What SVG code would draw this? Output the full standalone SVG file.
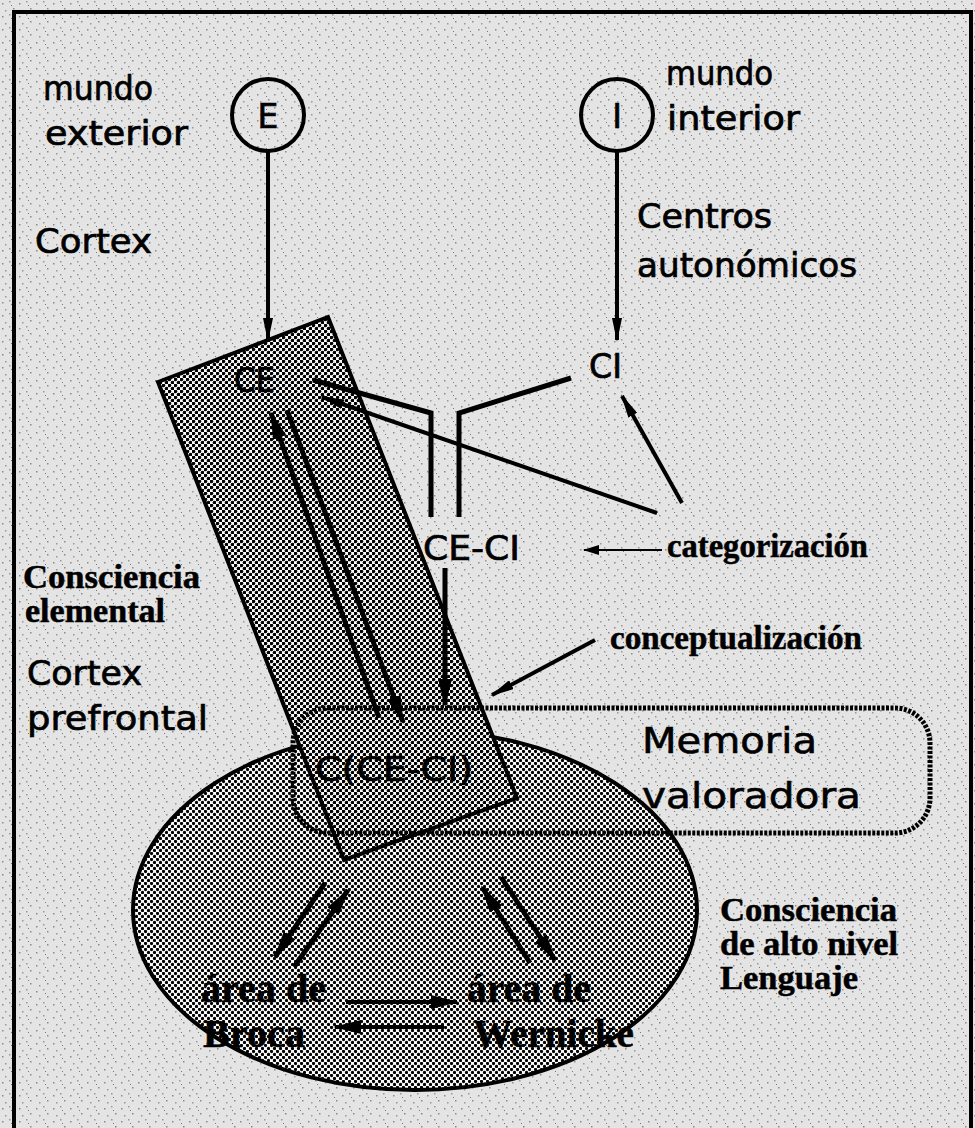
<svg xmlns="http://www.w3.org/2000/svg" width="975" height="1128" viewBox="0 0 975 1128">
<style>
.sl{font-family:"DejaVu Sans","Liberation Sans",sans-serif;font-size:33px;fill:#000;stroke:#000;stroke-width:0.7}
.big{font-family:"DejaVu Sans","Liberation Sans",sans-serif;font-size:36px;fill:#000;stroke:#000;stroke-width:0.6}
.bs{font-family:"Liberation Serif","Times New Roman",serif;font-weight:bold;font-size:34px;fill:#000;stroke:#000;stroke-width:0.5}
.bb{font-family:"Liberation Serif","Times New Roman",serif;font-weight:bold;font-size:39px;fill:#000;stroke:#000;stroke-width:0.5}
.ln{stroke:#000;fill:none;stroke-width:4}
.th{stroke:#000;fill:none;stroke-width:5}
</style>
<defs>
<pattern id="bg" width="17" height="13" patternUnits="userSpaceOnUse">
<rect width="17" height="13" fill="#e4e4e4"/>
<rect x="2" y="3" width="1.5" height="1.5" fill="#8a8a8a"/>
<rect x="9" y="1" width="1.5" height="1.5" fill="#999"/>
<rect x="13" y="8" width="1.5" height="1.5" fill="#8a8a8a"/>
<rect x="5" y="10" width="1.5" height="1.5" fill="#999"/>
<rect x="11" y="5" width="1" height="1" fill="#777"/>
</pattern>
<pattern id="htR" width="6" height="6" patternUnits="userSpaceOnUse">
<rect width="6" height="6" fill="#fff"/>
<circle cx="1.5" cy="1.5" r="1.8" fill="#000"/>
<circle cx="4.5" cy="4.5" r="1.8" fill="#000"/>
</pattern>
<pattern id="htE" width="6" height="6" patternUnits="userSpaceOnUse">
<rect width="6" height="6" fill="#fff"/>
<circle cx="1.5" cy="1.5" r="1.65" fill="#000"/>
<circle cx="4.5" cy="4.5" r="1.65" fill="#000"/>
</pattern>
<marker id="ah" viewBox="0 0 24 10" refX="22" refY="5" markerWidth="24" markerHeight="10" markerUnits="userSpaceOnUse" orient="auto"><path d="M0,0 L24,5 L0,10 z" fill="#000"/></marker>
<marker id="ahb" viewBox="0 0 28 14" refX="26" refY="7" markerWidth="28" markerHeight="14" markerUnits="userSpaceOnUse" orient="auto"><path d="M0,0 L28,7 L0,14 z" fill="#000"/></marker>
<marker id="ahs" viewBox="0 0 16 10" refX="15" refY="5" markerWidth="16" markerHeight="10" markerUnits="userSpaceOnUse" orient="auto"><path d="M0,0 L16,5 L0,10 z" fill="#000"/></marker>
</defs>

<rect width="975" height="1128" fill="url(#bg)"/>
<rect x="14" y="12" width="957" height="1130" fill="none" stroke="#000" stroke-width="4"/>

<g id="lenguaje">
<ellipse cx="415" cy="910" rx="282" ry="180" fill="url(#htE)" stroke="#000" stroke-width="4"/>
</g>

<g id="consciencia-elemental">
<polygon points="158,382 328,317 517,798 344,860" fill="url(#htR)" stroke="#000" stroke-width="4"/>
<text class="sl" x="234" y="392" textLength="41" lengthAdjust="spacingAndGlyphs">CE</text>
<text class="sl" x="315" y="781" textLength="158" lengthAdjust="spacingAndGlyphs">C(CE-CI)</text>
</g>

<g id="memoria">
<rect x="293" y="708" width="637" height="125" rx="35" fill="none" stroke="#000" stroke-width="5" stroke-dasharray="3 1.5"/>
<text class="big" x="642" y="753" textLength="175" lengthAdjust="spacingAndGlyphs">Memoria</text>
<text class="big" x="642" y="808" textLength="219" lengthAdjust="spacingAndGlyphs">valoradora</text>
</g>

<g id="E">
<circle cx="268" cy="115" r="36" fill="none" stroke="#000" stroke-width="4"/>
<text class="sl" x="268" y="128" text-anchor="middle" font-size="36">E</text>
</g>
<g id="I">
<circle cx="617" cy="115" r="36" fill="none" stroke="#000" stroke-width="4"/>
<text class="sl" x="617" y="128" text-anchor="middle" font-size="36">I</text>
</g>

<g id="CI"><text class="sl" x="589" y="378" textLength="33" lengthAdjust="spacingAndGlyphs">CI</text></g>
<g id="CE-CI"><text class="sl" x="423" y="560" textLength="97" lengthAdjust="spacingAndGlyphs">CE-CI</text></g>

<g id="connectors">
<line class="ln" x1="268" y1="152" x2="268" y2="340" marker-end="url(#ah)"/>
<line class="ln" x1="617" y1="152" x2="617" y2="340" marker-end="url(#ah)"/>
<polyline class="th" points="313,380 431,413 431,517"/>
<polyline class="th" points="571,378 459,413 459,517"/>
<line class="ln" x1="657" y1="513" x2="322" y2="397" marker-end="url(#ah)"/>
<line class="ln" x1="682" y1="503" x2="622" y2="396" marker-end="url(#ah)"/>
<line class="th" x1="379" y1="718" x2="271" y2="413" marker-end="url(#ahb)"/>
<line class="th" x1="287" y1="410" x2="403" y2="722" marker-end="url(#ahb)"/>
<line class="th" x1="445" y1="568" x2="445" y2="705" marker-end="url(#ahb)"/>
<line stroke="#000" stroke-width="2" x1="662" y1="550" x2="584" y2="550" marker-end="url(#ahs)"/>
<line class="ln" x1="595" y1="640" x2="492" y2="695" marker-end="url(#ah)"/>
<line class="th" x1="325" y1="883" x2="275" y2="957" marker-end="url(#ahb)"/>
<line class="th" x1="294" y1="967" x2="348" y2="890" marker-end="url(#ahb)"/>
<line class="th" x1="530" y1="963" x2="482" y2="887" marker-end="url(#ahb)"/>
<line class="th" x1="501" y1="877" x2="555" y2="960" marker-end="url(#ahb)"/>
<line class="ln" x1="346" y1="1002" x2="457" y2="1002" marker-end="url(#ahb)"/>
<line class="ln" x1="444" y1="1027" x2="335" y2="1027" marker-end="url(#ahb)"/>
</g>

<g id="labels">
<text class="sl" x="43" y="100" textLength="110" lengthAdjust="spacingAndGlyphs">mundo</text>
<text class="sl" x="45" y="145" textLength="143" lengthAdjust="spacingAndGlyphs">exterior</text>
<text class="sl" x="35" y="253" textLength="117" lengthAdjust="spacingAndGlyphs">Cortex</text>
<text class="sl" x="666" y="85" textLength="107" lengthAdjust="spacingAndGlyphs">mundo</text>
<text class="sl" x="667" y="130" textLength="133" lengthAdjust="spacingAndGlyphs">interior</text>
<text class="sl" x="637" y="228" textLength="135" lengthAdjust="spacingAndGlyphs">Centros</text>
<text class="sl" x="637" y="277" textLength="220" lengthAdjust="spacingAndGlyphs">autonómicos</text>
<text class="sl" x="27" y="685" textLength="115" lengthAdjust="spacingAndGlyphs">Cortex</text>
<text class="sl" x="27" y="730" textLength="181" lengthAdjust="spacingAndGlyphs">prefrontal</text>
<text class="bs" x="23" y="588" textLength="177" lengthAdjust="spacingAndGlyphs">Consciencia</text>
<text class="bs" x="25" y="622" textLength="140" lengthAdjust="spacingAndGlyphs">elemental</text>
<text class="bs" x="667" y="557" textLength="201" lengthAdjust="spacingAndGlyphs">categorización</text>
<text class="bs" x="610" y="649" textLength="252" lengthAdjust="spacingAndGlyphs">conceptualización</text>
<text class="bs" x="720" y="921" textLength="177" lengthAdjust="spacingAndGlyphs" font-size="30">Consciencia</text>
<text class="bs" x="720" y="955" textLength="178" lengthAdjust="spacingAndGlyphs" font-size="30">de alto nivel</text>
<text class="bs" x="720" y="989" textLength="138" lengthAdjust="spacingAndGlyphs" font-size="30">Lenguaje</text>
<text class="bb" x="201" y="1002" textLength="125" lengthAdjust="spacingAndGlyphs">área de</text>
<text class="bb" x="203" y="1047" textLength="102" lengthAdjust="spacingAndGlyphs">Broca</text>
<text class="bb" x="467" y="1002" textLength="124" lengthAdjust="spacingAndGlyphs">área de</text>
<text class="bb" x="473" y="1047" textLength="161" lengthAdjust="spacingAndGlyphs">Wernicke</text>
</g>
</svg>
